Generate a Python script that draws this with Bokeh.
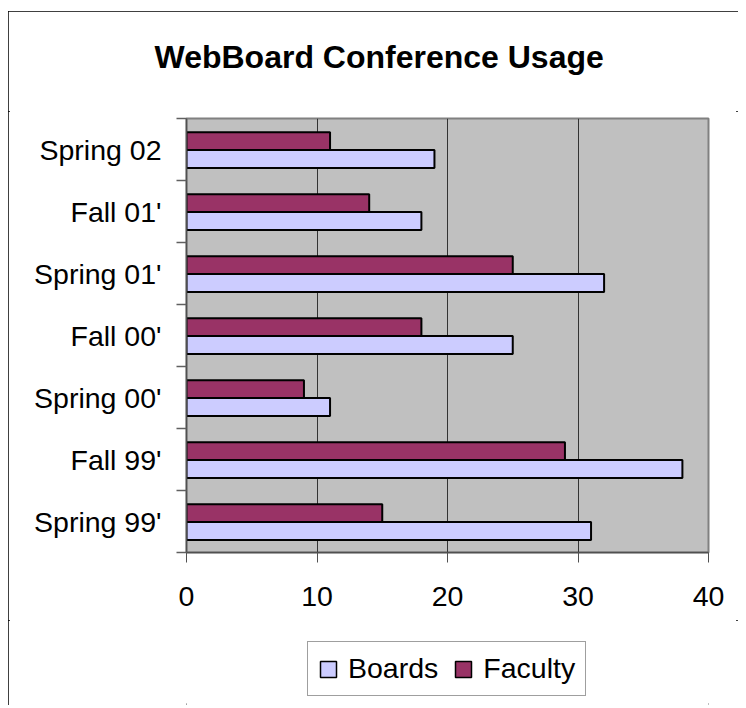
from bokeh.plotting import figure
from bokeh.models import FixedTicker, Legend, LegendItem, Range1d, ColumnDataSource, Title, Spacer
from bokeh.layouts import column, row
from bokeh.embed import file_html
from bokeh.resources import INLINE

# ---- data ----
categories = ["Spring 99'", "Fall 99'", "Spring 00'", "Fall 00'", "Spring 01'", "Fall 01'", "Spring 02"]
boards = [31, 38, 11, 25, 32, 18, 19]
faculty = [15, 29, 9, 18, 25, 14, 11]
x_ticks = [0, 10, 20, 30, 40]
title_text = "WebBoard Conference Usage"

FONT = "Liberation Sans"
BOARDS_COLOR = "#CCCCFF"
FACULTY_COLOR = "#993366"
BAR_H = 0.29
n = len(categories)
centers = [i + 0.49 for i in range(n)]

src = ColumnDataSource(dict(
    cat=categories,
    boards=boards,
    faculty=faculty,
    y_b=[c - BAR_H / 2 for c in centers],
    y_f=[c + BAR_H / 2 for c in centers],
))

# ---- title strip ----
tf = figure(width=730, height=100, x_range=Range1d(0, 1), y_range=Range1d(0, 1),
            x_axis_type=None, y_axis_type=None,
            output_backend="svg", toolbar_location=None,
            min_border=0, min_border_left=0, min_border_right=0,
            min_border_top=0, min_border_bottom=0)
tf.outline_line_color = None
tf.background_fill_color = "white"
tf.border_fill_color = "white"
tf.grid.grid_line_color = None
tf.add_layout(Title(text=title_text, align="left", offset=-32, standoff=50,
                    text_font=FONT, text_font_size="32px", text_font_style="bold",
                    text_color="black"), "above")

# ---- main chart ----
p = figure(width=730, height=509,
           x_range=Range1d(0, 40), y_range=Range1d(0, n),
           output_backend="svg", toolbar_location=None,
           min_border_left=178, min_border_right=30,
           min_border_top=7, min_border_bottom=68)
p.background_fill_color = "#C0C0C0"
p.border_fill_color = "white"
p.outline_line_color = "#808080"
p.outline_line_width = 2

p.hbar(y="y_b", right="boards", left=0, height=BAR_H, source=src,
       fill_color=BOARDS_COLOR, line_color="black", line_width=2)
p.hbar(y="y_f", right="faculty", left=0, height=BAR_H, source=src,
       fill_color=FACULTY_COLOR, line_color="black", line_width=2)

# grid
p.ygrid.grid_line_color = None
p.xgrid.ticker = FixedTicker(ticks=x_ticks)
p.xgrid.grid_line_color = "#333333"
p.xgrid.grid_line_width = 1

# x axis
xa = p.xaxis[0]
xa.ticker = FixedTicker(ticks=x_ticks)
xa.axis_line_color = "#505050"
xa.axis_line_width = 1.5
xa.major_tick_line_color = "#505050"
xa.major_tick_out = 10
xa.major_tick_in = 0
xa.minor_tick_line_color = None
xa.major_label_text_font = FONT
xa.major_label_text_font_size = "28.5px"
xa.major_label_text_color = "black"
xa.major_label_standoff = 24

# y axis: labels at centres, tick marks at boundaries (minor ticks)
ya = p.yaxis[0]
ya.ticker = FixedTicker(ticks=[i + 0.5 for i in range(n)], minor_ticks=list(range(n + 1)))
ya.major_label_overrides = {i + 0.5: c for i, c in enumerate(categories)}
ya.axis_line_color = "#505050"
ya.axis_line_width = 1.5
ya.major_tick_line_color = None
ya.major_tick_out = 0
ya.major_tick_in = 0
ya.minor_tick_line_color = "#606060"
ya.minor_tick_line_width = 1.5
ya.minor_tick_out = 10
ya.minor_tick_in = 0
ya.major_label_text_font = FONT
ya.major_label_text_font_size = "28.5px"
ya.major_label_text_color = "black"
ya.major_label_standoff = 15

# ---- legend strip (separate figure so it is not clipped) ----
lf = figure(width=730, height=85, x_range=Range1d(0, 1), y_range=Range1d(0, 1),
            x_axis_type=None, y_axis_type=None,
            output_backend="svg", toolbar_location=None,
            min_border=0, min_border_left=0, min_border_right=0,
            min_border_top=0, min_border_bottom=0)
lf.outline_line_color = None
lf.background_fill_color = "white"
lf.border_fill_color = "white"
lf.grid.grid_line_color = None
# off-screen swatch renderers (only used for the legend keys)
lb = lf.hbar(y=[-5], right=[-5], left=-6, height=0.5,
             fill_color=BOARDS_COLOR, line_color="black", line_width=1.5)
lfa = lf.hbar(y=[-5], right=[-5], left=-6, height=0.5,
              fill_color=FACULTY_COLOR, line_color="black", line_width=1.5)

legend = Legend(items=[LegendItem(label="Boards", renderers=[lb]),
                       LegendItem(label="Faculty", renderers=[lfa])],
                location=(121, 9), orientation="horizontal",
                border_line_color="#404040", border_line_width=1,
                background_fill_color="white", background_fill_alpha=1,
                label_text_font=FONT, label_text_font_size="28.5px",
                label_text_color="black",
                glyph_width=20, glyph_height=20, label_standoff=10,
                spacing=15, padding=10, margin=0)
lf.add_layout(legend)

chart = column(tf, p, lf, spacing=0)
chart.styles = {"outline": "2px solid black", "outline-offset": "-2px"}
layout = column(Spacer(width=1, height=11), row(Spacer(width=8, height=1), chart, spacing=0), spacing=0)
open("out.html", "w").write(file_html(layout, INLINE))
